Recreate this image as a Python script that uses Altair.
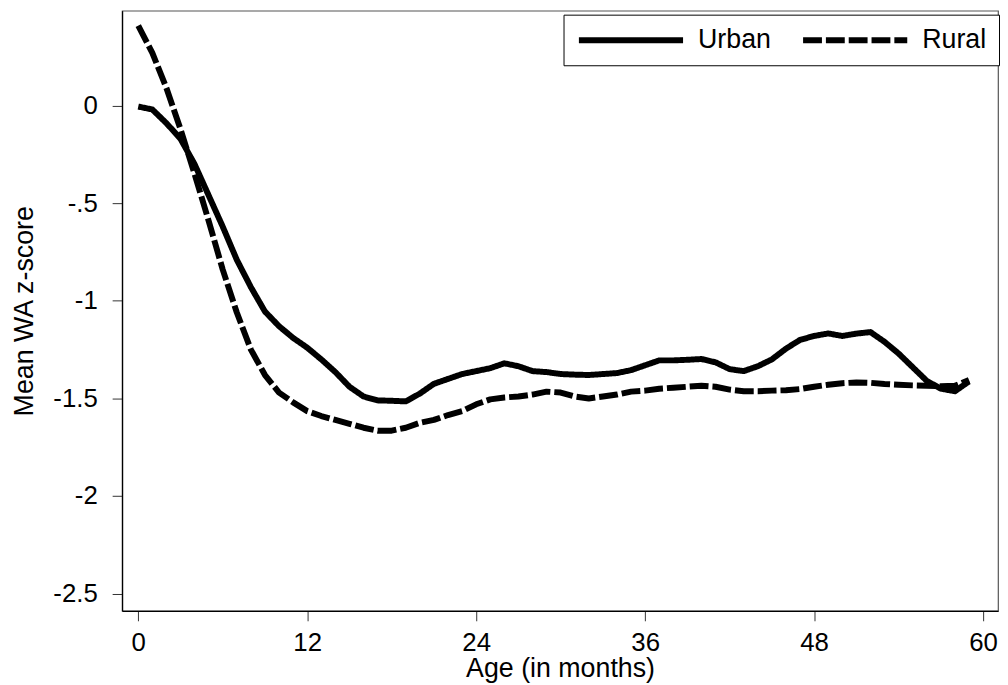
import altair as alt
import pandas as pd

ages = list(range(60))
urban = [-0.005, -0.02, -0.09, -0.17, -0.30, -0.46, -0.62, -0.79, -0.93, -1.055,
         -1.13, -1.19, -1.24, -1.30, -1.365, -1.44, -1.49, -1.51, -1.512, -1.515,
         -1.475, -1.425, -1.40, -1.375, -1.36, -1.345, -1.32, -1.335, -1.36, -1.365,
         -1.375, -1.378, -1.38, -1.375, -1.37, -1.355, -1.33, -1.305, -1.305, -1.302,
         -1.298, -1.315, -1.35, -1.36, -1.335, -1.30, -1.245, -1.20, -1.18, -1.167,
         -1.18, -1.168, -1.16, -1.21, -1.27, -1.34, -1.41, -1.45, -1.463, -1.413]
rural = [0.41, 0.27, 0.09, -0.12, -0.35, -0.59, -0.84, -1.06, -1.25, -1.38,
         -1.47, -1.52, -1.565, -1.59, -1.61, -1.63, -1.65, -1.665, -1.665, -1.65,
         -1.625, -1.61, -1.585, -1.565, -1.53, -1.505, -1.495, -1.49, -1.48, -1.465,
         -1.47, -1.49, -1.50, -1.49, -1.48, -1.465, -1.46, -1.45, -1.445, -1.44,
         -1.435, -1.44, -1.455, -1.463, -1.463, -1.46, -1.458, -1.452, -1.44, -1.43,
         -1.422, -1.418, -1.42, -1.426, -1.43, -1.433, -1.435, -1.437, -1.435, -1.405]
groups = ["Urban", "Rural"]
x_ticks = [0, 12, 24, 36, 48, 60]
y_ticks = [0, -0.5, -1, -1.5, -2, -2.5]

df = pd.DataFrame({
    "age": ages + ages,
    "z": urban + rural,
    "area": ["Urban"] * len(ages) + ["Rural"] * len(ages),
})

FONT = "Liberation Sans"

y_label_expr = ("datum.value == 0 ? '0' : (datum.value < 0 ? '-' : '') + "
                "replace(format(abs(datum.value), '~g'), '0.', '.')")

chart = alt.Chart(df).mark_line(
    color="black", strokeWidth=6, strokeCap="butt", strokeJoin="round"
).encode(
    x=alt.X("age:Q",
            scale=alt.Scale(domain=[-1.148, 61.06], nice=False, zero=False),
            axis=alt.Axis(values=x_ticks, title="Age (in months)", grid=False,
                          labelBaseline="alphabetic", labelPadding=30,
                          titleBaseline="alphabetic", titleY=66)),
    y=alt.Y("z:Q",
            scale=alt.Scale(domain=[-2.588, 0.486], nice=False, zero=False),
            axis=alt.Axis(values=y_ticks, title="Mean WA z-score", grid=False,
                          labelExpr=y_label_expr,
                          labelPadding=15, titleAngle=270, titleBaseline="alphabetic",
                          titleX=-90, titleY=302.5, titleAlign="center")),
    strokeDash=alt.StrokeDash("area:N",
                              scale=alt.Scale(domain=groups, range=[[1, 0], [19, 4]]),
                              legend=alt.Legend(title=None, orient="none", legendX=445,
                                                legendY=4, direction="horizontal",
                                                strokeColor="black", fillColor="white",
                                                padding=12,
                                                symbolType="M-5.25,0H5.25",
                                                symbolSize=400, symbolOffset=42.5,
                                                symbolStrokeWidth=6,
                                                symbolStrokeColor="black",
                                                labelFontSize=27, labelFont=FONT,
                                                labelColor="black", labelOffset=54.1,
                                                columnPadding=19)),
).properties(
    width=883, height=605,
    autosize=alt.AutoSizeParams(type="none"),
    padding={"left": 115, "top": 0, "right": 2, "bottom": 71},
).configure_view(
    stroke="#555", strokeWidth=1.2
).configure_axis(
    domainColor="black", domainWidth=1.3, tickColor="#333", tickWidth=1, tickSize=10,
    labelFont=FONT, labelFontSize=26, labelColor="black",
    titleFont=FONT, titleFontSize=27, titleColor="black", titleFontWeight="normal",
)

chart.save("out.html", embed_options={"renderer": "svg", "actions": False})
